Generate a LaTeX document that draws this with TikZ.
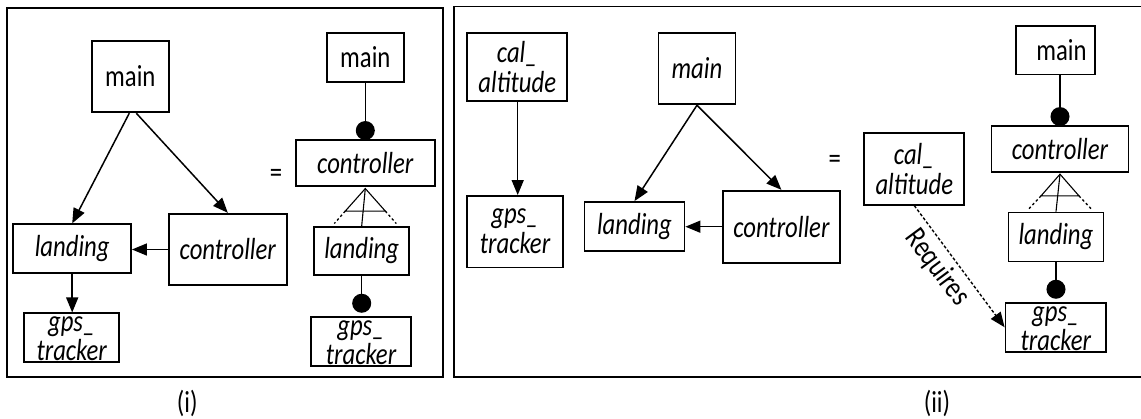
\documentclass[tikz,border=0pt]{standalone}
\usepackage{fontspec}
\setmainfont{Carlito}[FakeStretch=0.81]
\usetikzlibrary{arrows.meta,calc}

\begin{document}
\begin{tikzpicture}[x=1pt,y=-1pt,
  lbl/.style={font=\fontsize{30.5}{30}\selectfont, inner sep=0pt},
  itl/.style={font=\fontsize{30.5}{30}\selectfont\itshape, inner sep=0pt, anchor=base},
  box/.style={draw, line width=1.8pt, rectangle, inner sep=0pt, align=center,
    font=\fontsize{30.5}{30}\selectfont},
  mod/.style={box, font=\fontsize{30.5}{30}\selectfont\itshape},
  wh/.style 2 args={minimum width=#1pt, minimum height=#2pt},
  call/.style={line width=1.5pt, -{Triangle[length=15pt,width=12pt]}},
  uses/.style={line width=1.5pt, -{Circle[length=19pt,width=19pt]}},
  req/.style={line width=1.4pt, dash pattern=on 3pt off 2pt,
    -{Triangle[length=15pt,width=12pt]}},
  alt/.style={line width=1.1pt},
  altdot/.style={line width=1.3pt, dash pattern=on 2.5pt off 2.5pt},
  frame/.style={line width=1.8pt}
]
\useasboundingbox (0,0) rectangle (1141,418);

% two-line module name set low in a short box, the last line on the border
\newcommand\lowname[3]{%
  \node[itl] (#1b) at ([yshift=2.5pt]#1.south) {#3};
  \node[itl] (#1a) at ([yshift=31.5pt]#1.south) {#2};}

% ---------------- panel (i) ----------------
\draw[frame] (7.3,8.3) rectangle (442.7,377.3);

\node[box,wh={77.3}{71.6}]  (mainA) at (130.3,76.5)  {main};
\node[mod,wh={117.7}{48.7}] (landA) at (72.2,248.6)  {landing};
\node[mod,wh={117.7}{71.6}] (ctrlA) at (227.8,249.5) {controller};
\node[mod,wh={95.3}{48.7}]  (gpsA)  at (71.7,337.7)  {};
\lowname{gpsA}{gps\_}{tracker}

\draw[call] ([xshift=-1pt]mainA.south) -- (landA.north);
\draw[call] ([xshift=6pt]mainA.south) -- (ctrlA.north);
\draw[call] (ctrlA.west) -- (ctrlA.west -| landA.east);
\draw[call] (landA.south) -- (landA.south |- gpsA.north);

\node[lbl] (eqA) at (276,176) {=};

\node[box,wh={77.3}{49}]    (mainB) at (365.3,57.2)  {main};
\node[mod,wh={138.7}{45.7}] (ctrlB) at (365.3,162.8) {controller};
\node[mod,wh={95.3}{48.6}]  (landB) at (361.7,251)   {landing};
\node[mod,wh={100}{49.3}]   (gpsB)  at (361,341.3)   {};
\lowname{gpsB}{gps\_}{tracker}

\draw[uses, shorten >=-1pt] (ctrlB.north |- mainB.south) -- (ctrlB.north);
\coordinate (apB) at ([yshift=-2pt]ctrlB.south);
\draw[alt] (landB.north) -- (apB);
\draw[alt] (apB) -- ++(-20,22.5) -- ++(40,0) -- cycle;
\draw[altdot] (apB) ++(-20,22.5) -- ++(-11,12.5);
\draw[altdot] (apB) ++(20,22.5) -- ++(11,12.5);
\draw[uses, shorten >=3pt] (landB.south) -- (landB.south |- gpsB.north);

\node[lbl] (capA) at (187.3,403.3) {(i)};

% ---------------- panel (ii) ----------------
\draw[frame] (1143,6.5) -- (454.2,6.5) -- (454.2,376.7) -- (1143,376.7);

\node[mod,wh={100}{68}]   (calC)  at (517.3,67)    {cal\_\\altitude};
\node[mod,wh={95.4}{71.5}] (gpsC) at (515,231.7)   {gps\_\\tracker};
\node[mod,wh={77}{71.6}]  (mainC) at (697,68.5)    {main};
\node[mod,wh={100}{49}]   (landC) at (634.5,226.5) {landing};
\node[mod,wh={117.2}{72}] (ctrlC) at (781.4,226.7) {controller};

\draw[call] ([xshift=0.4pt]calC.south) -- ([xshift=0.4pt]calC.south |- gpsC.north);
\draw[call] (mainC.south) -- (landC.north);
\draw[call] (mainC.south) -- (ctrlC.north);
\draw[call] (ctrlC.west) -- (ctrlC.west -| landC.east);

\node[lbl] (eqB) at (834.7,161.7) {=};

\node[mod,wh={100}{71.4}]  (calD)  at (914.3,169)   {cal\_\\altitude};
\node[box,wh={79}{48.5}]   (mainD) at (1055.5,50.3) {\hspace*{12pt}main};
\node[mod,wh={137}{45.8}]  (ctrlD) at (1060,148.9)  {controller};
\node[mod,wh={95}{49}]     (landD) at (1056,237)    {landing};
\node[mod,wh={100.5}{49.3}] (gpsD) at (1055.8,327.3) {};
\lowname{gpsD}{gps\_}{tracker}

\draw[uses, shorten >=-1pt] (ctrlD.north |- mainD.south) -- (ctrlD.north);
\coordinate (apD) at ([yshift=-1.5pt]ctrlD.south);
\draw[alt] (landD.north) -- (apD);
\draw[alt] (apD) -- ++(-19,21.7) -- ++(38,0) -- cycle;
\draw[altdot] (apD) ++(-19,21.7) -- ++(-12.5,13.3);
\draw[altdot] (apD) ++(19,21.7) -- ++(12.5,13.3);
\draw[uses, shorten >=3pt] (landD.south) -- (landD.south |- gpsD.north);

\draw[req] (calD.south) -- node[lbl, pos=0.42, sloped, below=5pt] (reqL) {Requires} (gpsD.west);

\node[lbl] (capB) at (937,403.3) {(ii)};
\end{tikzpicture}
\end{document}
